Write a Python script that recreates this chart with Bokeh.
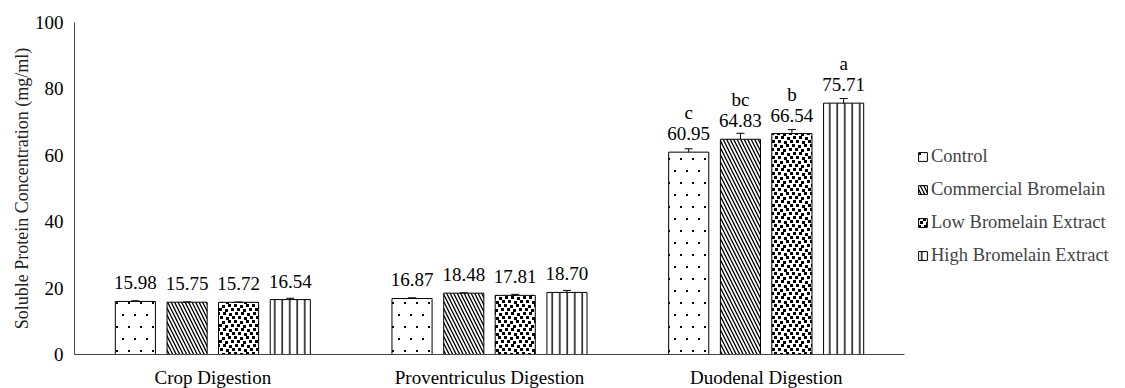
import base64, struct, zlib
from bokeh.plotting import figure
from bokeh.models import (ColumnDataSource, Range1d, Whisker, LabelSet, Legend, LegendItem,
                          TeeHead, ImageURLTexture, FixedTicker)
from bokeh.core.properties import value
from bokeh.transform import dodge
from bokeh.embed import file_html
from bokeh.resources import INLINE

groups = ["Crop Digestion", "Proventriculus Digestion", "Duodenal Digestion"]
series = ["Control", "Commercial Bromelain", "Low Bromelain Extract", "High Bromelain Extract"]
control = [15.98, 16.87, 60.95]
commercial = [15.75, 18.48, 64.83]
low_extract = [15.72, 17.81, 66.54]
high_extract = [16.54, 18.70, 75.71]
control_err = [0.2, 0.2, 1.0]
commercial_err = [0.1, 0.1, 1.8]
low_err = [0.1, 0.3, 1.2]
high_err = [0.4, 0.6, 1.4]
control_letters = ["", "", "c"]
commercial_letters = ["", "", "bc"]
low_letters = ["", "", "b"]
high_letters = ["", "", "a"]
y_ticks = [0, 20, 40, 60, 80, 100]

FONT = "Liberation Serif"
FS = "19px"


def png_url(w, h, black):
    rows = b""
    for y in range(h):
        rows += b"\x00"
        for x in range(w):
            rows += b"\x00\x00\x00\xff" if (x, y) in black else b"\xff\xff\xff\x00"
    def chunk(t, d):
        c = struct.pack(">I", len(d)) + t + d
        return c + struct.pack(">I", zlib.crc32(t + d) & 0xffffffff)
    png = b"\x89PNG\r\n\x1a\n" + chunk(b"IHDR", struct.pack(">IIBBBBB", w, h, 8, 6, 0, 0, 0))
    png += chunk(b"IDAT", zlib.compress(rows)) + chunk(b"IEND", b"")
    return "data:image/png;base64," + base64.b64encode(png).decode()


def squares(points, size, w, h):
    s = set()
    for (px, py) in points:
        for dx in range(size):
            for dy in range(size):
                s.add(((px + dx) % w, (py + dy) % h))
    return s

sparse_tex = ImageURLTexture(url=png_url(24, 24, squares([(2, 2), (14, 2), (8, 14), (20, 14)], 2, 24, 24)))
dense_tex = ImageURLTexture(url=png_url(18, 16, squares(
    [(0, 0), (6, 1), (12, 0), (3, 4), (9, 5), (15, 4),
     (1, 8), (7, 8), (13, 9), (4, 12), (10, 13), (16, 12)], 3, 18, 16)))

UNIT = 830 / 3
WIDTH = 1109
LEFT = 74
p = figure(x_range=Range1d(0, (WIDTH - LEFT) / UNIT), y_range=(0, 100),
           width=WIDTH, height=400,
           output_backend="svg", toolbar_location=None,
           min_border_left=LEFT, min_border_right=0, min_border_top=22, min_border_bottom=46)
p.outline_line_color = None
p.xgrid.grid_line_color = None
p.ygrid.grid_line_color = None

xpos = [i + 0.5 for i in range(len(groups))]
vals = [control, commercial, low_extract, high_extract]
errs = [control_err, commercial_err, low_err, high_err]
letters = [control_letters, commercial_letters, low_letters, high_letters]
offsets = [-0.28, -0.093, 0.093, 0.28]
hatch = [
    dict(hatch_pattern=value("sparse"), hatch_scale=24, hatch_extra={"sparse": sparse_tex}),
    dict(hatch_pattern="left_diagonal_line", hatch_scale=7, hatch_weight=1.3),
    dict(hatch_pattern=value("dense"), hatch_scale=18, hatch_extra={"dense": dense_tex}),
    dict(hatch_pattern="vertical_line", hatch_scale=7.5, hatch_weight=1.4),
]

items = []
for name, v, e, lt, off, h in zip(series, vals, errs, letters, offsets, hatch):
    src = ColumnDataSource(dict(
        x=xpos, top=v,
        upper=[a + b for a, b in zip(v, e)], lower=[a - b for a, b in zip(v, e)],
        label=["%.2f" % a for a in v], letter=lt,
    ))
    xs = dodge("x", off)
    r = p.vbar(x=xs, top="top", width=0.145, source=src, fill_color="white",
               line_color="black", line_width=1, hatch_color="black", **h)
    items.append(LegendItem(label=name, renderers=[r]))
    w = Whisker(base=xs, upper="upper", lower="lower", source=src, line_color="black", line_width=1,
                upper_head=TeeHead(size=8, line_color="black"), lower_head=TeeHead(size=8, line_color="black"))
    p.add_layout(w)
    p.add_layout(LabelSet(x=xs, y="top", text="label", source=src, y_offset=12,
                          text_align="center", text_baseline="alphabetic",
                          text_font=FONT, text_font_size=FS, text_color="black"))
    p.add_layout(LabelSet(x=xs, y="top", text="letter", source=src, y_offset=33,
                          text_align="center", text_baseline="alphabetic",
                          text_font=FONT, text_font_size=FS, text_color="black"))

legend = Legend(items=items, location=(843, 88), orientation="vertical",
                glyph_width=11, glyph_height=11, label_standoff=3, spacing=12,
                label_text_font=FONT, label_text_font_size="18.5px", label_height=20,
                padding=0, margin=0, border_line_alpha=0, background_fill_alpha=0)
p.add_layout(legend)

for ax in (p.xaxis, p.yaxis):
    ax.axis_line_color = "#444444"
    ax.axis_line_width = 1
    ax.major_tick_line_color = None
    ax.minor_tick_line_color = None
    ax.major_label_text_font = FONT
    ax.major_label_text_font_size = FS
    ax.major_label_text_color = "black"

p.xaxis.bounds = (0, 3)
p.xaxis.ticker = FixedTicker(ticks=xpos)
p.xaxis.major_label_overrides = {x: g for x, g in zip(xpos, groups)}
p.xaxis.major_label_standoff = 6
p.yaxis.ticker = y_ticks
p.yaxis.major_label_standoff = 5
p.yaxis.axis_label = "Soluble Protein Concentration (mg/ml)"
p.yaxis.axis_label_text_font = FONT
p.yaxis.axis_label_text_font_size = "18px"
p.yaxis.axis_label_text_font_style = "normal"
p.yaxis.axis_label_text_color = "#222222"
p.yaxis.axis_label_standoff = 0

open("out.html", "w").write(file_html(p, INLINE))
